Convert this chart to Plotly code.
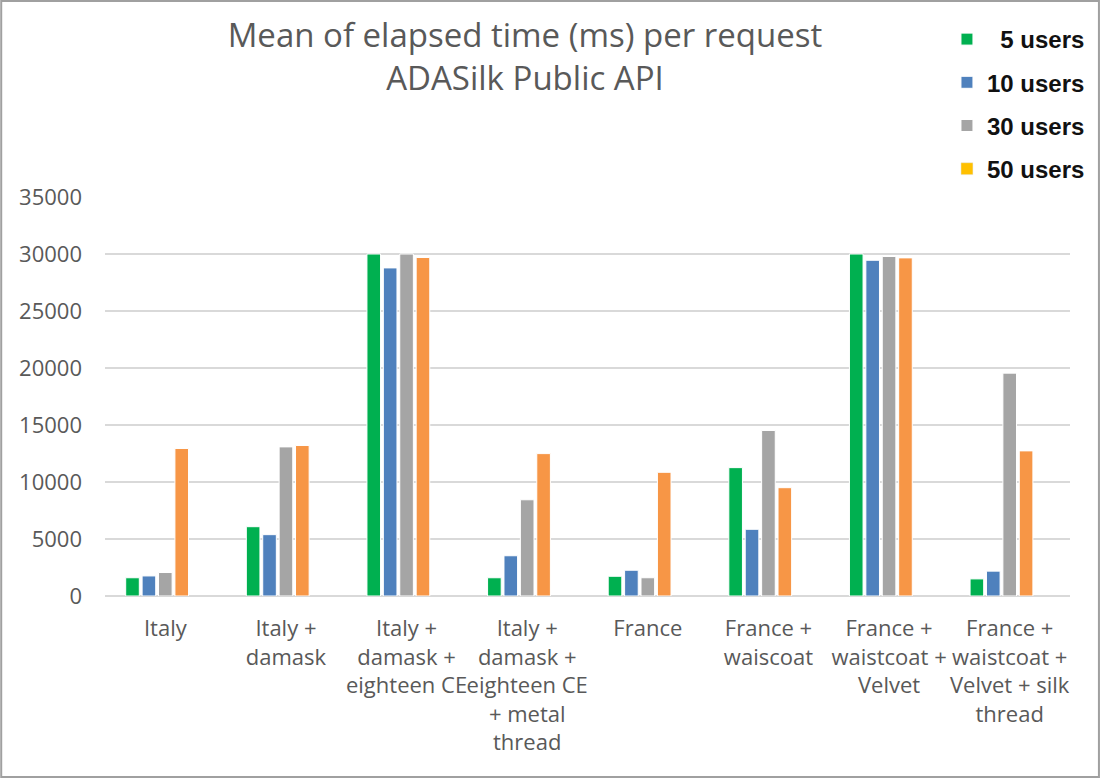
import plotly.graph_objects as go

categories = [
    "Italy",
    "Italy +<br>damask",
    "Italy +<br>damask +<br>eighteen CE",
    "Italy +<br>damask +<br>eighteen CE<br>+ metal<br>thread",
    "France",
    "France +<br>waiscoat",
    "France +<br>waistcoat +<br>Velvet",
    "France +<br>waistcoat +<br>Velvet + silk<br>thread",
]
users_5 = [1600, 6080, 30000, 1600, 1730, 11260, 30000, 1500]
users_10 = [1760, 5380, 28780, 3530, 2260, 5850, 29450, 2180]
users_30 = [2060, 13080, 30000, 8440, 1600, 14520, 29780, 19550]
users_50 = [12940, 13200, 29690, 12490, 10850, 9500, 29660, 12730]
y_ticks = [0, 5000, 10000, 15000, 20000, 25000, 30000, 35000]

series = [
    ("\u20075 users", users_5, "#00B050"),
    ("10 users", users_10, "#4F81BD"),
    ("30 users", users_30, "#A5A5A5"),
]

W, H = 1102, 778
L, R, T, B = 105, 30, 197, 182
pw, ph = W - L - R, H - T - B

font_fam = "Open Sans, Liberation Sans, sans-serif"

fig = go.Figure()
for i, (name, vals, col) in enumerate(series):
    fig.add_trace(go.Bar(
        x=categories, y=vals, name=name, legendgroup=f"g{i}",
        marker=dict(color=col, line=dict(color="white", width=1)),
    ))
fig.add_trace(go.Bar(
    x=categories, y=users_50, name="50 users", showlegend=False,
    legendgroup="g3",
    marker=dict(color="#F79646", line=dict(color="white", width=1)),
))
fig.add_trace(go.Bar(
    x=[None], y=[None], name="50 users", legendgroup="g3",
    marker=dict(color="#FFC000"), showlegend=True,
))

fig.update_layout(
    width=W, height=H,
    margin=dict(l=L, r=R, t=T, b=B),
    paper_bgcolor="white", plot_bgcolor="white",
    barmode="group", bargap=0.32, bargroupgap=0.17,
    title=dict(
        text="Mean of elapsed time (ms) per request<br>ADASilk Public API",
        x=525 / W, xanchor="center", y=1 - 47 / H, yanchor="middle",
        font=dict(family=font_fam, size=33, color="#595959"),
    ),
    font=dict(family=font_fam, color="#595959"),
    legend=dict(
        x=(1092 - L) / pw, xanchor="right", y=1 + 180 / ph, yanchor="top",
        font=dict(family="Liberation Sans, Arial, sans-serif", size=24, color="#111111", weight="bold"),
        tracegroupgap=9, bgcolor="rgba(0,0,0,0)", itemwidth=30,
    ),
    xaxis=dict(
        showgrid=False, showline=False, ticks="", tickangle=0,
        tickfont=dict(size=22, color="#595959"), ticklabelstandoff=17,
    ),
    yaxis=dict(
        range=[0, 35000], tickvals=y_ticks, ticktext=[str(v) for v in y_ticks],
        showgrid=True, gridcolor="#D9D9D9", gridwidth=2,
        zeroline=True, zerolinecolor="#D9D9D9", zerolinewidth=2,
        showline=False, ticks="",
        tickfont=dict(size=22, color="#595959"), ticklabelstandoff=22,
    ),
    shapes=[dict(
        type="rect", xref="paper", yref="paper",
        x0=-(L - 1) / pw, x1=1 + (R - 1) / pw,
        y0=-(B - 1) / ph, y1=1 + (T - 1) / ph,
        line=dict(color="#A0A0A0", width=2), fillcolor="rgba(0,0,0,0)",
        layer="below",
    )],
)

fig.write_html("out.html", config={"displayModeBar": False},
               post_script="document.body.style.margin='0';")
